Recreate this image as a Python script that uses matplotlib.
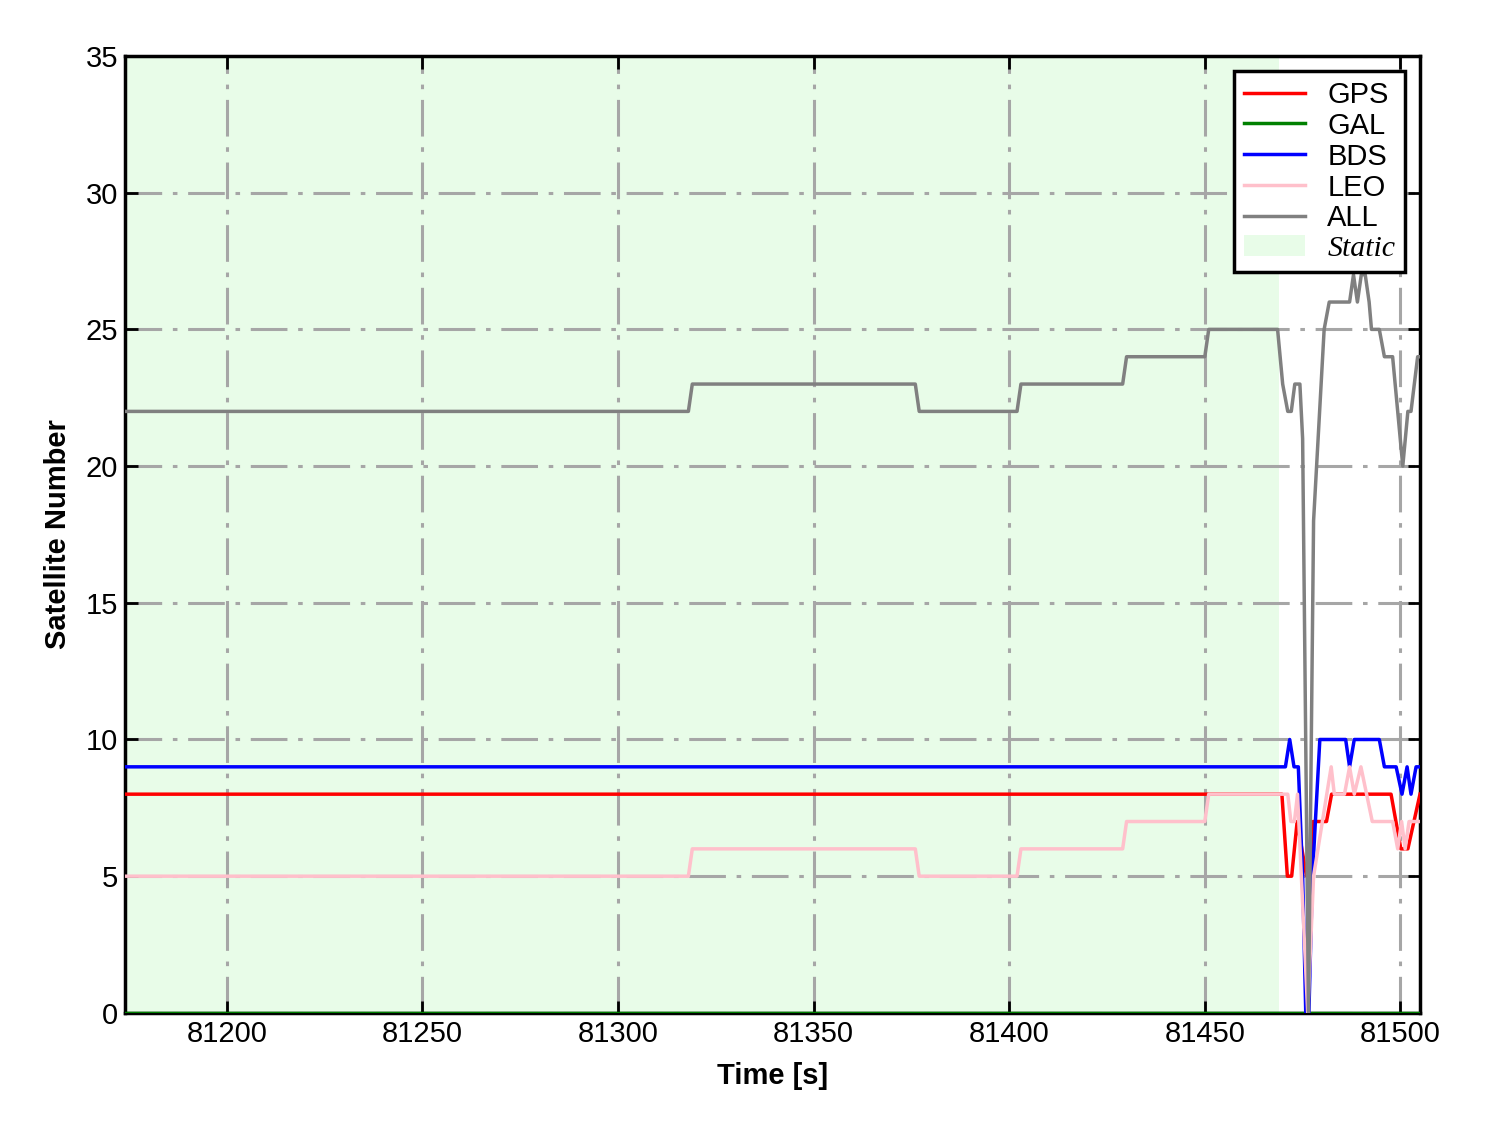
import numpy as np
import matplotlib
matplotlib.use('Agg')
import matplotlib.pyplot as plt
from matplotlib.patches import Patch
from matplotlib.lines import Line2D

plt.rcParams['font.family'] = ['Liberation Sans', 'DejaVu Sans']

# step times of the static part + the dynamic tail
t_gps = [81174, 81469.7, 81471.1, 81472.2, 81473.6, 81476.0, 81476.8, 81477.7,
         81481.1, 81482.4, 81497.6, 81500.1, 81501.9, 81505]
v_gps = [8, 8, 5, 5, 7, 5, 5, 7, 7, 8, 8, 6, 6, 8]

t_gal = [81174, 81505]
v_gal = [0, 0]

t_bds = [81174, 81470.6, 81471.7, 81472.8, 81473.9, 81475.0, 81475.8, 81476.6,
         81477.5, 81479.4, 81486.0, 81487.0, 81488.2, 81494.6, 81495.9, 81498.9,
         81500.4, 81501.7, 81502.7, 81504.0, 81505]
v_bds = [9, 9, 10, 9, 9, 5, 0, 0, 5, 10, 10, 9, 10, 10, 9, 9, 8, 9, 8, 9, 9]

t_leo = [81174, 81318, 81319, 81376, 81377, 81402, 81403, 81429, 81430, 81450,
         81451, 81471.2, 81472.0, 81472.9, 81473.7, 81476.3, 81477.8, 81482.3,
         81483.1, 81485.7, 81487.0, 81488.2, 81489.9, 81492.8, 81498.0, 81499.3,
         81500.3, 81501.2, 81502.2, 81505]
v_leo = [5, 5, 6, 6, 5, 5, 6, 6, 7, 7, 8, 8, 7, 7, 8, 0, 5, 9, 8, 8, 9, 8, 9,
         7, 7, 6, 7, 6, 7, 7]

t_all = [81174, 81318, 81319, 81376, 81377, 81402, 81403, 81429, 81430, 81450,
         81451, 81468.6, 81469.9, 81471.2, 81472.1, 81473.0, 81474.3, 81475.0,
         81476.5, 81477.8, 81480.5, 81481.8, 81487.0, 81488.0, 81489.0, 81490.0,
         81491.0, 81492.0, 81492.6, 81494.6, 81495.9, 81498.0, 81499.3, 81500.6,
         81501.9, 81502.7, 81504.4, 81505]
v_all = [22, 22, 23, 23, 22, 22, 23, 23, 24, 24, 25, 25, 23, 22, 22, 23, 23, 21,
         0, 18, 25, 26, 26, 27, 26, 27, 27, 26, 25, 25, 24, 24, 22, 20, 22, 22,
         24, 24]

static_start = 81174
static_end = 81469

series = [('GPS', t_gps, v_gps, 'red'),
          ('GAL', t_gal, v_gal, 'green'),
          ('BDS', t_bds, v_bds, 'blue'),
          ('LEO', t_leo, v_leo, 'pink'),
          ('ALL', t_all, v_all, 'gray')]

fs = 21
lw = 2.5

fig = plt.figure(figsize=(14.88, 11.33), dpi=100)
ax = fig.add_axes([0.084, 0.106, 0.8703, 0.8446])

ax.axvspan(static_start, static_end, color='#e8fce8', lw=0, zorder=0)

for name, t, v, c in series:
    ax.plot(t, v, color=c, lw=lw, zorder=3)

ax.set_xlim(81174, 81505)
ax.set_ylim(0, 35)
ax.set_xticks(np.arange(81200, 81501, 50))
ax.set_yticks(np.arange(0, 36, 5))
ax.grid(True, color='#a6a6a6', lw=2.2, linestyle=(0, (12, 3.5, 1.5, 3.5)), zorder=1)
ax.set_axisbelow(True)

ax.tick_params(direction='in', length=9, width=2, labelsize=fs,
               top=True, right=True, pad=5)
for s in ax.spines.values():
    s.set_linewidth(2.5)

ax.set_xlabel('Time [s]', fontsize=fs, fontweight='bold', labelpad=10)
ax.set_ylabel('Satellite Number', fontsize=fs, fontweight='bold', labelpad=10)

handles = [Line2D([], [], color=c, lw=lw) for _, _, _, c in series]
handles.append(Patch(facecolor='#e8fce8', edgecolor='none'))
labels = [s[0] for s in series] + ['Static']
leg = ax.legend(handles, labels, loc='upper right', fontsize=fs,
                fancybox=False, framealpha=1, edgecolor='black',
                handlelength=2.1, handletextpad=0.75, labelspacing=0.1,
                borderaxespad=0.5, borderpad=0.35)
leg.get_frame().set_linewidth(2.5)
leg.set_zorder(5)
leg.get_texts()[-1].set_fontfamily('Liberation Serif')
leg.get_texts()[-1].set_fontstyle('italic')
leg.get_texts()[-1].set_fontsize(21.5)

fig.savefig('out.png', dpi=100)
